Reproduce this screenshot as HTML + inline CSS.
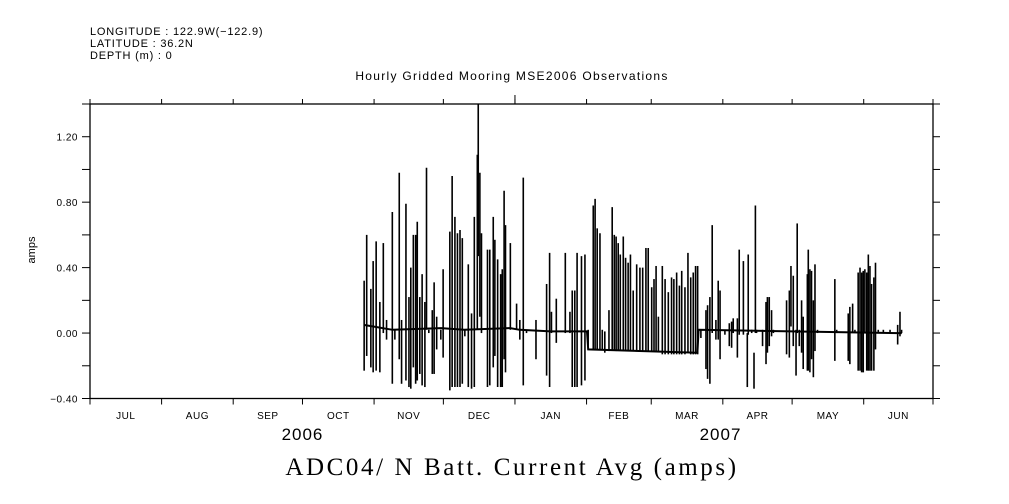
<!DOCTYPE html>
<html><head><meta charset="utf-8"><style>
body{margin:0;background:#fff;width:1009px;height:504px;overflow:hidden}
svg{display:block}
text{font-family:"Liberation Sans",sans-serif;fill:#000}
</style></head><body>
<svg id="chart" width="1009" height="504">
<text x="90" y="35" font-size="11" letter-spacing="0.8">LONGITUDE : 122.9W(−122.9)</text>
<text x="90" y="47" font-size="11" letter-spacing="0.8">LATITUDE : 36.2N</text>
<text x="90" y="59" font-size="11" letter-spacing="0.8">DEPTH (m) : 0</text>
<text x="512" y="80" font-size="12" letter-spacing="1.3" text-anchor="middle">Hourly Gridded Mooring MSE2006 Observations</text>
<text x="512" y="475" font-size="25" letter-spacing="2.6" text-anchor="middle" style="font-family:'Liberation Serif',serif">ADC04/ N Batt. Current Avg (amps)</text>
<text x="35" y="250" font-size="11" text-anchor="middle" transform="rotate(-90 35 250)">amps</text>
<g id="axes"></g>
<g id="series"></g>
</svg>
<script>
// days since 2006-07-01
const spikeDays=[118.7,119.8,121.6,122.6,123.9,125.5,127.0,128.4,130.9,132.0,133.9,134.9,136.8,138.1,138.9,140.0,141.0,141.7,142.8,143.8,145.0,145.7,146.7,148.2,149.0,150.1,151.9,152.9,155.8,156.8,158.0,159.1,160.2,161.2,162.3,163.8,165.2,166.4,167.7,168.1,168.8,169.5,172.1,173.1,174.6,175.3,176.5,177.8,178.5,179.3,179.9,182.0,184.7,186.1,187.6,189.0,193.1,197.7,199.0,199.8,201.9,205.8,207.8,208.8,209.9,210.9,212.8,214.3,215.7,217.9,218.7,219.6,220.8,221.8,222.9,224.7,226.1,227.0,227.8,228.7,229.6,230.9,231.9,233.0,234.0,235.2,236.7,238.1,239.3,240.7,241.7,243.2,244.2,245.1,246.1,247.8,249.0,250.4,251.8,252.8,254.0,255.2,256.2,257.6,258.9,260.1,261.2,262.2,263.1,264.5,266.7,267.4,268.4,269.4,271.0,272.0,272.8,274.9,276.8,277.8,278.5,280.3,281.1,282.9,284.6,285.0,286.5,287.5,288.1,288.6,291.2,292.7,293.3,294.1,295.1,295.9,301.6,302.8,303.5,304.5,305.7,306.2,307.1,308.1,308.8,310.6,311.0,311.7,312.4,313.2,313.9,315.0,322.5,323.3,328.3,329.0,330.2,331.2,332.6,333.4,334.1,334.8,335.5,336.3,337.0,337.7,338.4,339.4,340.1,341.3,343.5,346.4,349.7,350.7,351.4];
const spikeHigh=[0.32,0.60,0.27,0.44,0.56,0.19,0.55,0.08,0.74,0.02,0.98,0.08,0.79,0.22,0.40,0.60,0.60,0.68,0.22,0.36,0.19,1.01,0.02,0.14,0.31,0.10,0.02,0.39,0.62,0.96,0.71,0.61,0.63,0.58,0.02,0.42,0.12,0.71,1.09,1.40,0.98,0.61,0.51,0.51,0.71,0.57,0.45,0.36,0.39,0.87,0.66,0.55,0.18,0.08,0.95,0.02,0.08,0.30,0.49,0.13,0.21,0.49,0.13,0.26,0.26,0.49,0.47,0.48,0.02,0.78,0.82,0.64,0.61,0.02,0.01,0.14,0.77,0.60,0.59,0.55,0.48,0.59,0.46,0.43,0.48,0.26,0.42,0.40,0.40,0.52,0.52,0.28,0.33,0.41,0.10,0.41,0.33,0.25,0.34,0.33,0.37,0.29,0.38,0.28,0.49,0.34,0.37,0.41,0.41,0.02,0.14,0.17,0.22,0.66,0.08,0.32,0.26,0.02,0.06,0.07,0.09,0.09,0.51,0.44,0.00,0.48,0.02,-0.12,0.78,0.02,0.02,0.19,0.22,0.22,0.14,0.02,0.20,0.26,0.41,0.35,0.02,0.67,0.02,0.20,0.10,0.36,0.51,0.39,0.38,0.20,0.42,0.02,0.33,0.02,0.12,0.16,0.18,0.02,0.37,0.40,0.37,0.38,0.39,0.37,0.48,0.41,0.30,0.34,0.43,0.02,0.02,0.02,0.05,0.13,0.02];
const spikeLow=[-0.23,-0.14,-0.21,-0.24,-0.23,-0.24,0.00,-0.04,-0.31,-0.04,-0.16,-0.31,-0.29,-0.33,-0.34,-0.21,-0.31,-0.29,-0.25,-0.32,-0.33,0.02,0.00,-0.25,-0.25,-0.10,-0.04,-0.15,-0.35,-0.33,-0.33,-0.33,-0.33,-0.31,-0.02,-0.33,-0.34,-0.33,0.02,0.47,0.10,0.00,-0.33,-0.32,-0.21,-0.14,-0.33,-0.33,-0.33,-0.16,-0.24,0.02,0.02,-0.04,-0.32,0.00,-0.16,-0.26,-0.33,0.00,-0.06,0.00,0.00,-0.33,-0.33,-0.33,-0.32,-0.29,-0.10,-0.10,-0.10,-0.10,-0.10,-0.10,-0.12,-0.11,-0.11,-0.11,-0.11,-0.11,-0.11,-0.11,-0.11,-0.11,-0.11,-0.11,-0.11,-0.11,-0.11,-0.11,-0.11,-0.11,-0.11,-0.11,-0.11,-0.13,-0.13,-0.13,-0.13,-0.13,-0.13,-0.13,-0.13,-0.13,-0.12,-0.13,-0.13,-0.13,-0.13,-0.03,-0.22,-0.28,-0.31,0.00,-0.04,-0.04,-0.16,-0.01,-0.08,-0.09,0.00,-0.15,-0.01,-0.01,-0.33,-0.01,0.00,-0.34,0.00,0.00,-0.08,-0.19,-0.12,-0.08,-0.02,0.00,-0.13,-0.15,0.04,-0.08,-0.26,0.00,-0.08,-0.12,-0.22,-0.23,-0.23,-0.24,-0.16,-0.27,-0.11,0.00,-0.17,0.00,-0.17,-0.19,0.00,0.00,-0.23,-0.23,-0.24,-0.24,0.00,-0.23,-0.23,-0.23,-0.23,-0.23,-0.10,0.00,0.00,0.00,-0.07,-0.02,0.00];
const baseDays=[118.5,131,152,162,182,186,199.5,215.2,215.7,263,263.5,350,351.5];
const baseValues=[0.05,0.02,0.03,0.02,0.03,0.02,0.01,0.01,-0.10,-0.12,0.02,0.00,0.00];
const monthLabels=["JUL","AUG","SEP","OCT","NOV","DEC","JAN","FEB","MAR","APR","MAY","JUN"];
const monthStarts=[0,31,62,92,123,153,184,215,243,274,304,335,365];
const yearLabels=["2006","2007"];
const yearDays=[92,273];
const yTicks=[-0.4,-0.2,0,0.2,0.4,0.6,0.8,1.0,1.2,1.4];
const yLabels=["-0.40","0.00","0.40","0.80","1.20"];

const L=90,R=933,T=104,B=398.5,yMin=-0.4,yMax=1.4;
const xs=d=>L+d*(R-L)/365;
const ys=v=>B-(v-yMin)*(B-T)/(yMax-yMin);
const NS="http://www.w3.org/2000/svg";
const ax=document.getElementById('axes');
const sg=document.getElementById('series');
function mk(tag,attrs,parent){const e=document.createElementNS(NS,tag);for(const k in attrs)e.setAttribute(k,attrs[k]);(parent||ax).appendChild(e);return e;}
const frame=mk('rect',{x:L,y:T,width:R-L,height:B-T,fill:'none',stroke:'#000','stroke-width':1.3});


monthStarts.forEach((d,i)=>{
  const x=xs(d);
  const t1=mk('line',{x1:x,x2:x,y1:B,y2:B+6,stroke:'#000'});
  
  
  const t2=mk('line',{x1:x,x2:x,y1:T,y2:T-5,stroke:'#000'});
  
  
  if(i<monthLabels.length){
    const tx=mk('text',{x:xs((d+monthStarts[i+1])/2),y:419,'font-size':10,'text-anchor':'middle','letter-spacing':0.5});
    tx.textContent=monthLabels[i];
    
    
  }
});
const ct=mk('line',{x1:xs(184),x2:xs(184),y1:T,y2:T-9,stroke:'#000'});


yearLabels.forEach((y,i)=>{
  const tx=mk('text',{x:xs(yearDays[i]),y:440,'font-size':17,'text-anchor':'middle','letter-spacing':1});
  tx.textContent=y;
  
  
});
yTicks.forEach(v=>{
  const y=ys(v);
  const a=mk('line',{x1:L-8,x2:L,y1:y,y2:y,stroke:'#000'});
  
  
  const b=mk('line',{x1:R,x2:R+7,y1:y,y2:y,stroke:'#000'});
  
  
});
yLabels.forEach(s=>{
  const v=parseFloat(s);
  const tx=mk('text',{x:L-12,y:ys(v)+4,'font-size':10,'text-anchor':'end','letter-spacing':0.5});
  tx.textContent=s.replace('-','−');
  
  
});
const bl=mk('polyline',{fill:'none',stroke:'#000','stroke-width':2,points:baseDays.map((d,i)=>xs(d).toFixed(1)+','+ys(baseValues[i]).toFixed(1)).join(' ')},sg);


spikeDays.forEach((d,i)=>{
  const x=xs(d);
  const ln=mk('line',{x1:x,x2:x,y1:ys(spikeHigh[i]),y2:ys(spikeLow[i]),stroke:'#000','stroke-width':1.6},sg);
  
  
});
</script>
</body></html>
